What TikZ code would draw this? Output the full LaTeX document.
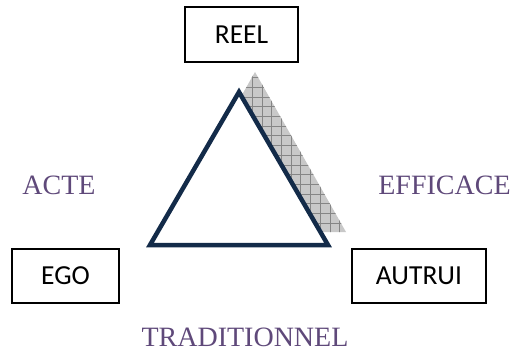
\documentclass[tikz,border=0pt]{standalone}
\usepackage{fontspec}
\setmainfont{Liberation Serif}
\newfontfamily\boxfont{Carlito}
\definecolor{labpurple}{HTML}{5F497A}
\definecolor{trinavy}{HTML}{132B49}
\definecolor{shadowgray}{HTML}{C8C8C8}
\definecolor{gridgray}{HTML}{858585}
\begin{document}
\begin{tikzpicture}[x=1pt,y=-1pt,
  wordbox/.style={draw=black, line width=1.5pt, rectangle, fill=white, inner sep=0pt,
    font=\boxfont\fontsize{27.5}{30}\selectfont},
  label/.style={anchor=base, text=labpurple, inner sep=0pt,
    font=\fontsize{28}{32}\selectfont}]
\useasboundingbox (0,0) rectangle (512,353);
% shadow
\begin{scope}
  \clip (255,72) -- (346,232) -- (164,232) -- cycle;
  \fill[shadowgray] (150,60) rectangle (360,240);
  \draw[gridgray, line width=0.6pt, step=9.7pt] (150,60) grid (360,240);
\end{scope}
% triangle
\draw[trinavy, line width=4.5pt, fill=white, line join=miter]
  (239,92) -- (328,245) -- (150,245) -- cycle;
% boxes
\node[wordbox, minimum width=113pt, minimum height=55pt] (reel) at (241.5,34.5) {REEL};
\node[wordbox, minimum width=107pt, minimum height=54pt] (ego) at (65.5,276) {EGO};
\node[wordbox, minimum width=134pt, minimum height=54pt] (autrui) at (419,276) {AUTRUI};
% labels
\node[label] (acte) at (59,194) {ACTE};
\node[label] (efficace) at (444.5,194) {EFFICACE};
\node[label] (trad) at (245,346) {TRADITIONNEL};
\end{tikzpicture}
\end{document}
